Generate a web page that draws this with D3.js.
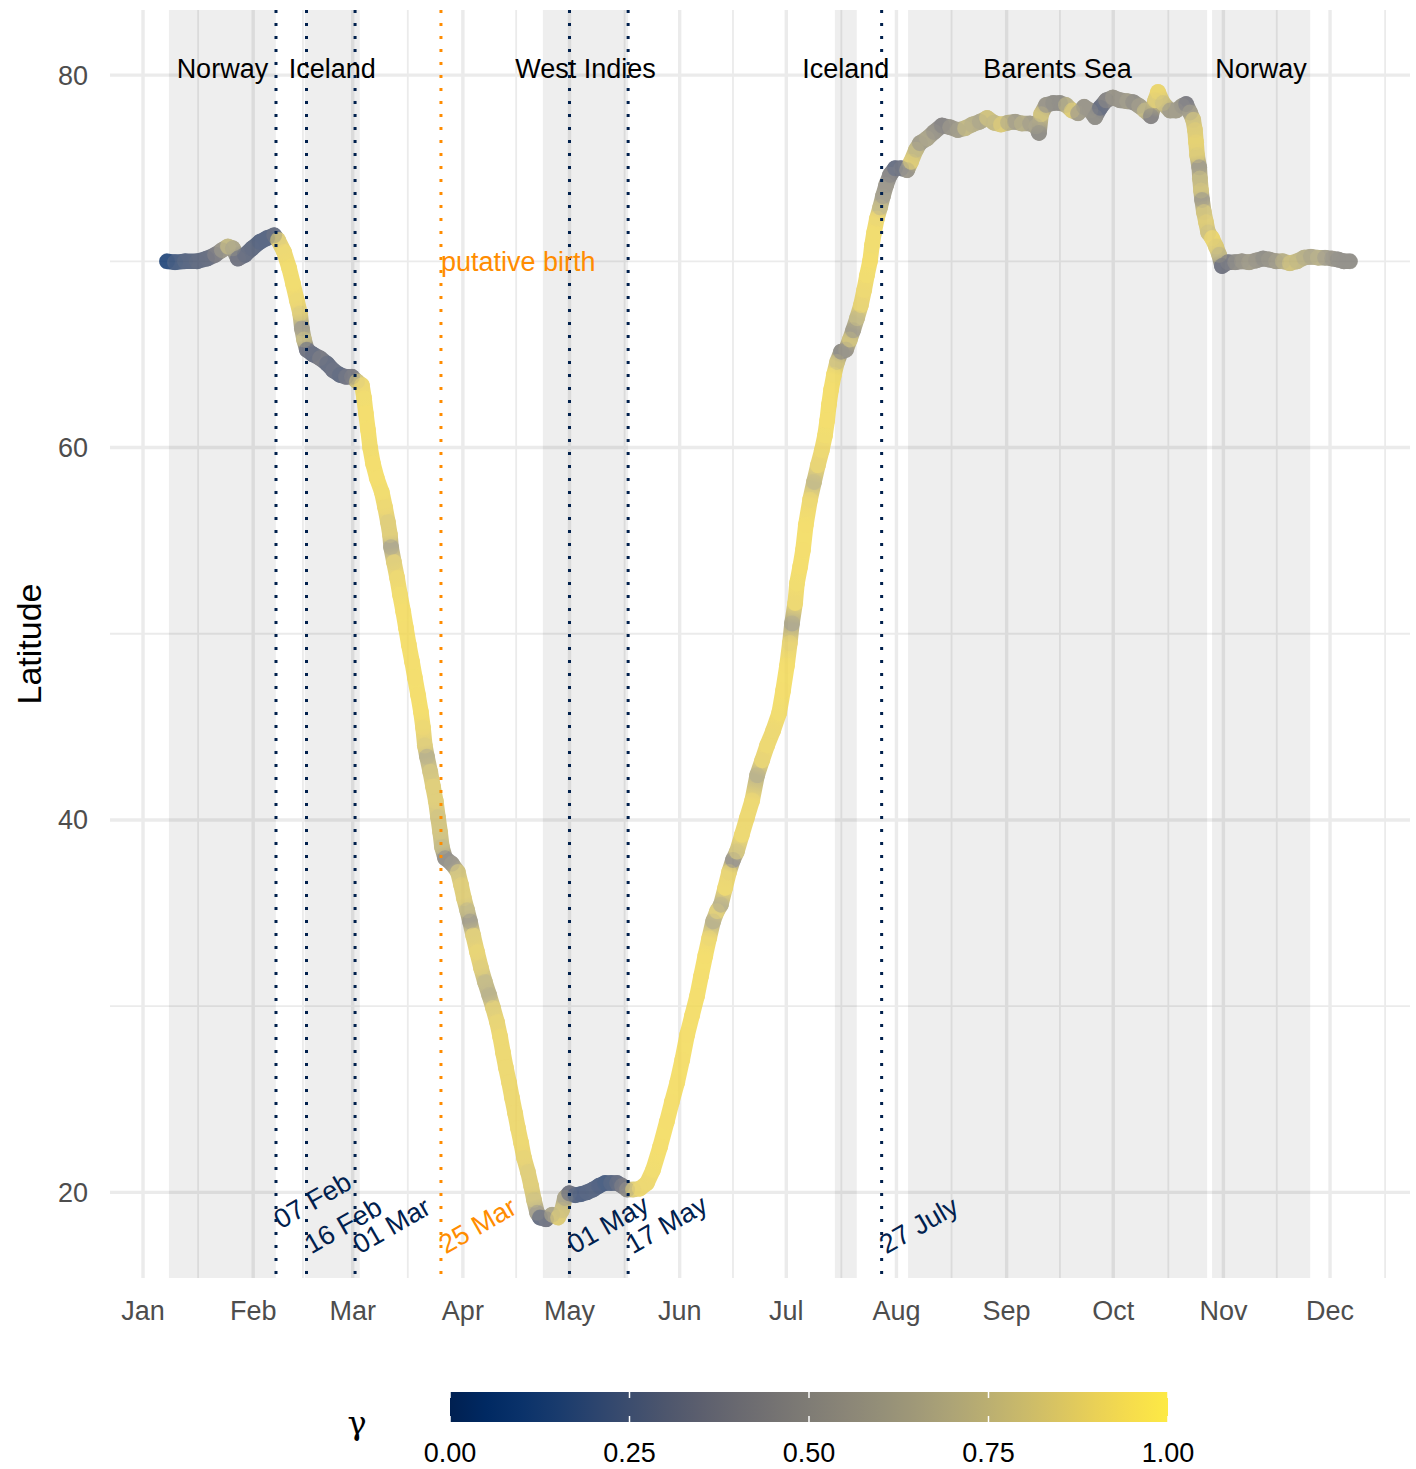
<!DOCTYPE html>
<html>
<head>
<meta charset="utf-8">
<script src="https://cdn.jsdelivr.net/npm/d3@7"></script>
<style>
  body { margin: 0; background: #fff; }
  svg text { font-family: "Liberation Sans", Arial, sans-serif; }
</style>
</head>
<body>
<div id="chart"></div>
<script>
// ---- data ----
const monthLabels = ["Jan", "Feb", "Mar", "Apr", "May", "Jun", "Jul", "Aug", "Sep", "Oct", "Nov", "Dec"];
const latMajor = [20, 40, 60, 80];
const latMinor = [30, 50, 70];

const regionNames = ["Norway", "Iceland", "West Indies", "Iceland", "Barents Sea", "Norway"];
const regionStart = ["2019-01-08T07:00", "2019-02-15T12:00", "2019-04-23T12:00", "2019-07-14T16:00", "2019-08-04T06:00", "2019-10-28T19:00"];
const regionEnd = ["2019-02-07T09:00", "2019-03-03T00:00", "2019-05-17T12:00", "2019-07-20T20:00", "2019-10-27T10:00", "2019-11-25T10:00"];
const regionLabelLat = 80.35;

const eventTimes = ["2019-02-07T10:00", "2019-02-16T00:00", "2019-03-01T16:00", "2019-05-01T00:00", "2019-05-17T12:00", "2019-07-27T20:00"];
const eventLabels = ["07 Feb", "16 Feb", "01 Mar", "01 May", "17 May", "27 July"];
const eventLabelLat = [18.45, 17.1, 17.1, 17.1, 17.1, 17.1];

const birthTime = "2019-03-25T20:00";
const birthLabel = "25 Mar";
const birthLabelLat = 17.1;
const birthText = "putative birth";
const birthTextLat = 70;

// track readings: day of year (0 = 1 Jan), latitude, gamma
const trackDay = [
  6.75, 9.0, 11.8, 15.2, 18.0, 20.3, 22.2, 23.9, 25.3, 26.7, 28.7, 30.7, 32.9, 34.9, 36.9,
  38.0, 39.7, 41.1, 42.2, 43.3, 44.2, 44.7, 45.3, 46.1,
  47.8, 49.8, 51.8, 53.5, 55.4, 57.1, 58.8, 60.2,
  61.6, 62.2, 62.7, 63.3, 63.9, 64.7, 65.8, 67.2, 68.1, 68.9,
  69.5, 69.8, 70.6, 71.5, 72.3, 73.2, 74.0, 74.8, 75.7, 76.5,
  77.4, 78.2, 78.8, 79.3, 79.9, 80.8, 81.6, 82.4, 83.0, 83.6,
  84.1, 85.0, 86.9, 88.6, 89.5, 90.3, 91.2, 92.0, 92.9, 94.0,
  95.1, 96.2, 97.4, 98.5, 99.6, 100.5, 101.3, 102.1, 103.0, 103.8,
  104.7, 105.5, 106.4, 107.2, 108.3, 109.2, 110.0, 110.9, 111.7, 113.4,
  115.1, 116.8, 117.9, 118.7, 119.9,
  121.6, 123.2, 124.9, 126.6, 128.3, 130.0, 131.7, 133.4, 134.8, 136.2,
  137.9, 139.8, 141.8, 143.5, 145.5, 147.4, 148.8, 150.3, 151.7, 153.1,
  154.5, 155.9, 157.0, 158.2, 159.3, 160.4, 161.5, 162.6, 163.8, 164.9,
  166.0, 167.1, 168.5, 169.9, 171.4, 172.8, 174.2, 175.6, 177.3, 179.0,
  180.1, 181.2, 182.0, 182.6, 183.5, 184.0, 184.9, 185.7, 186.5, 187.7,
  188.8, 189.9, 191.0, 191.9, 192.5, 193.0, 193.6, 194.4, 195.3, 196.4,
  197.8, 198.9, 199.8, 200.9, 202.0, 202.9, 203.7, 204.6, 205.1, 205.7,
  206.5, 207.4, 208.2, 209.1, 210.2, 211.6, 213.3, 215.0, 216.1, 217.5,
  218.6, 220.6, 222.6, 224.8, 227.1, 229.3, 231.3, 233.3, 235.5, 237.5,
  239.4, 241.4, 243.4, 245.4, 247.3, 249.6, 251.3, 252.1, 252.7, 254.1,
  256.1, 258.0, 259.7, 261.4, 263.1, 264.8, 266.5, 267.9, 269.3, 271.0,
  272.9, 274.9, 276.9, 278.6, 280.3, 281.9, 283.6, 284.8, 285.6, 287.0,
  289.0, 290.7, 292.4, 293.5, 294.6, 295.5,
  296.0, 296.3, 296.6, 297.2, 297.4, 297.7, 298.0, 298.5, 299.1, 299.7, 300.8, 301.9, 302.8, 303.6,
  305.3, 307.3, 309.2, 311.2, 313.2, 315.2, 316.8, 318.8, 320.7, 322.7,
  324.7, 326.7, 328.6, 330.6, 332.6, 334.6, 336.2, 337.9, 339.6
];
const trackLat = [
  70.0, 69.95, 70.0, 70.0, 70.15, 70.35, 70.6, 70.8, 70.7, 70.15, 70.35, 70.7, 71.05, 71.25, 71.4,
  71.15, 70.5, 69.65, 68.8, 67.9, 67.2, 66.4, 65.8, 65.25,
  65.0, 64.8, 64.5, 64.15, 63.9, 63.8, 63.8, 63.55,
  63.35, 62.65, 61.85, 60.95, 60.0, 59.15, 58.35, 57.6, 56.8, 56.0,
  55.3, 54.65, 53.85, 53.0, 52.1, 51.2, 50.3, 49.4, 48.5, 47.65,
  46.7, 45.8, 44.95, 44.0, 43.4, 42.6, 41.8, 41.0, 40.15, 39.35,
  38.55, 37.95, 37.65, 37.2, 36.5, 35.8, 35.15, 34.55, 33.8, 32.9,
  32.05, 31.3, 30.6, 29.9, 29.15, 28.35, 27.5, 26.7, 25.9, 25.1,
  24.25, 23.45, 22.65, 21.85, 21.1, 20.35, 19.6, 18.9, 18.65, 18.55,
  18.8, 18.65, 19.05, 19.7, 19.95,
  19.85, 19.9, 20.0, 20.15, 20.35, 20.5, 20.5, 20.5, 20.35, 20.15,
  20.15, 20.2, 20.5, 21.2, 22.45, 23.8, 24.85, 25.9, 27.1, 28.45,
  29.5, 30.55, 31.6, 32.7, 33.65, 34.55, 35.1, 35.45, 36.35, 37.2,
  37.85, 38.3, 39.2, 40.1, 41.05, 42.4, 43.2, 44.0, 44.8, 45.75,
  46.95, 48.3, 49.5, 50.55, 51.65, 52.7, 53.6, 54.5, 55.85, 57.2,
  58.15, 59.05, 59.85, 60.65, 61.45, 62.3, 63.1, 63.9, 64.6, 65.15,
  65.25, 65.8, 66.3, 66.95, 67.65, 68.45, 69.25, 70.05, 70.85, 71.55,
  72.3, 72.9, 73.5, 74.1, 74.65, 75.0, 75.0, 74.9, 75.35, 76.0,
  76.35, 76.6, 76.95, 77.3, 77.2, 77.05, 77.15, 77.35, 77.5, 77.7,
  77.45, 77.35, 77.45, 77.5, 77.4, 77.4, 77.25, 76.9, 77.9, 78.4,
  78.5, 78.5, 78.4, 78.1, 77.95, 78.3, 78.1, 77.75, 78.25, 78.65,
  78.8, 78.65, 78.6, 78.55, 78.35, 78.1, 77.8, 78.65, 79.1, 78.5,
  78.1, 78.1, 78.35, 78.45, 78.0, 77.6,
  77.05, 76.4, 75.7, 75.05, 74.45, 73.8, 73.3, 72.65, 72.1, 71.55, 71.25, 70.8, 70.35, 69.75,
  69.95, 69.95, 70.0, 69.95, 70.05, 70.15, 70.1, 70.0, 70.0, 69.9,
  70.0, 70.2, 70.25, 70.2, 70.2, 70.15, 70.1, 70.0, 70.0
];
const trackGamma = [
  0.08, 0.2, 0.25, 0.28, 0.3, 0.4, 0.55, 0.75, 0.65, 0.35, 0.3, 0.28, 0.25, 0.25, 0.3,
  0.85, 0.9, 0.92, 0.92, 0.9, 0.85, 0.6, 0.75, 0.35,
  0.3, 0.38, 0.3, 0.32, 0.28, 0.35, 0.4, 0.8,
  0.9, 0.92, 0.93, 0.93, 0.92, 0.93, 0.93, 0.92, 0.9, 0.85,
  0.85, 0.65, 0.85, 0.9, 0.92, 0.93, 0.93, 0.93, 0.93, 0.93,
  0.93, 0.93, 0.9, 0.85, 0.7, 0.8, 0.85, 0.85, 0.8, 0.8,
  0.75, 0.5, 0.55, 0.8, 0.85, 0.85, 0.75, 0.6, 0.85, 0.88,
  0.85, 0.75, 0.7, 0.85, 0.88, 0.9, 0.9, 0.9, 0.9, 0.9,
  0.9, 0.9, 0.9, 0.88, 0.85, 0.85, 0.8, 0.6, 0.3, 0.35,
  0.65, 0.85, 0.8, 0.65, 0.35,
  0.25, 0.22, 0.25, 0.25, 0.22, 0.2, 0.25, 0.3, 0.4, 0.5,
  0.85, 0.9, 0.9, 0.92, 0.93, 0.93, 0.93, 0.93, 0.93, 0.93,
  0.93, 0.93, 0.93, 0.93, 0.9, 0.7, 0.85, 0.7, 0.9, 0.88,
  0.55, 0.8, 0.9, 0.9, 0.9, 0.7, 0.88, 0.9, 0.9, 0.92,
  0.93, 0.93, 0.88, 0.65, 0.9, 0.92, 0.93, 0.93, 0.93, 0.9,
  0.75, 0.88, 0.9, 0.92, 0.93, 0.93, 0.93, 0.92, 0.8, 0.5,
  0.55, 0.8, 0.6, 0.75, 0.88, 0.9, 0.92, 0.93, 0.92, 0.92,
  0.9, 0.75, 0.6, 0.55, 0.45, 0.3, 0.35, 0.55, 0.85, 0.75,
  0.6, 0.65, 0.55, 0.45, 0.55, 0.6, 0.75, 0.7, 0.65, 0.8,
  0.75, 0.85, 0.7, 0.6, 0.7, 0.6, 0.65, 0.5, 0.8, 0.55,
  0.5, 0.5, 0.7, 0.85, 0.6, 0.55, 0.55, 0.5, 0.3, 0.45,
  0.55, 0.55, 0.6, 0.5, 0.6, 0.75, 0.45, 0.85, 0.9, 0.8,
  0.6, 0.6, 0.55, 0.4, 0.6, 0.8,
  0.85, 0.88, 0.85, 0.6, 0.75, 0.8, 0.6, 0.8, 0.85, 0.8, 0.9, 0.85, 0.75, 0.35,
  0.4, 0.5, 0.55, 0.6, 0.55, 0.5, 0.55, 0.6, 0.7, 0.8,
  0.75, 0.7, 0.65, 0.7, 0.6, 0.55, 0.5, 0.5, 0.5
];

const gammaTicks = [0, 0.25, 0.5, 0.75, 1];

// ---- setup ----
const width = 1416, height = 1469;
const panel = {left: 110, right: 1410, top: 10, bottom: 1278};

const svg = d3.select("#chart")
    .append("svg")
    .attr("width", width)
    .attr("height", height);

const parseDay = d3.utcParse("%Y-%m-%d");
const parseTime = d3.utcParse("%Y-%m-%dT%H:%M");
const parse = s => s.length > 10 ? parseTime(s) : parseDay(s);
const yearStart = Date.UTC(2019, 0, 1);
const dayToDate = d => new Date(yearStart + d * 864e5);

const x = d3.scaleUtc()
    .domain([new Date(Date.UTC(2018, 11, 22, 17)), new Date(Date.UTC(2019, 11, 23, 12))])
    .range([panel.left, panel.right]);

const y = d3.scaleLinear()
    .domain([15.4, 83.5])
    .range([panel.bottom, panel.top]);

const color = d3.scaleSequential(d3.interpolateCividis).domain([0, 1]);

const navy = "#00204D";
const orange = "darkorange";

// ---- grid ----
const months = d3.utcMonth.range(new Date(Date.UTC(2018, 11, 1)), new Date(Date.UTC(2020, 0, 2)));
const inX = d => d >= x.domain()[0] && d <= x.domain()[1];
const majorX = months.filter(inX);
const minorX = d3.pairs(months).map(([a, b]) => new Date((+a + +b) / 2)).filter(inX);

const grid = svg.append("g");
grid.selectAll("line.minx").data(minorX).join("line")
    .attr("x1", d => x(d)).attr("x2", d => x(d))
    .attr("y1", panel.top).attr("y2", panel.bottom)
    .attr("stroke", "#ebebeb").attr("stroke-width", 1.8);
grid.selectAll("line.miny").data(latMinor).join("line")
    .attr("x1", panel.left).attr("x2", panel.right)
    .attr("y1", d => y(d)).attr("y2", d => y(d))
    .attr("stroke", "#ebebeb").attr("stroke-width", 1.8);
grid.selectAll("line.majx").data(majorX).join("line")
    .attr("x1", d => x(d)).attr("x2", d => x(d))
    .attr("y1", panel.top).attr("y2", panel.bottom)
    .attr("stroke", "#ebebeb").attr("stroke-width", 3.4);
grid.selectAll("line.majy").data(latMajor).join("line")
    .attr("x1", panel.left).attr("x2", panel.right)
    .attr("y1", d => y(d)).attr("y2", d => y(d))
    .attr("stroke", "#ebebeb").attr("stroke-width", 3.4);

// ---- shaded regions ----
svg.append("g").selectAll("rect").data(regionNames).join("rect")
    .attr("x", (d, i) => x(parse(regionStart[i])))
    .attr("width", (d, i) => x(parse(regionEnd[i])) - x(parse(regionStart[i])))
    .attr("y", panel.top)
    .attr("height", panel.bottom - panel.top)
    .attr("fill", "#000")
    .attr("fill-opacity", 0.065);

// ---- axes text ----
svg.append("g").selectAll("text").data(latMajor).join("text")
    .attr("x", 88)
    .attr("y", d => y(d))
    .attr("dy", "0.35em")
    .attr("text-anchor", "end")
    .attr("font-size", 27)
    .attr("fill", "#4d4d4d")
    .text(d => d);

svg.append("g").selectAll("text").data(majorX.slice(0, monthLabels.length)).join("text")
    .attr("x", d => x(d))
    .attr("y", 1320)
    .attr("text-anchor", "middle")
    .attr("font-size", 27)
    .attr("fill", "#4d4d4d")
    .text((d, i) => monthLabels[i]);

svg.append("text")
    .attr("transform", `translate(41,${(panel.top + panel.bottom) / 2}) rotate(-90)`)
    .attr("text-anchor", "middle")
    .attr("font-size", 34)
    .attr("fill", "#000")
    .text("Latitude");

// ---- track ----
const pts = trackDay.map((d, i) => ({t: dayToDate(d), lat: trackLat[i], g: trackGamma[i]}));
const segs = d3.pairs(pts);
const defs = svg.append("defs");

defs.selectAll("linearGradient.seg").data(segs).join("linearGradient")
    .attr("class", "seg")
    .attr("id", (d, i) => "seg" + i)
    .attr("gradientUnits", "userSpaceOnUse")
    .attr("x1", d => x(d[0].t)).attr("y1", d => y(d[0].lat))
    .attr("x2", d => x(d[1].t)).attr("y2", d => y(d[1].lat))
    .selectAll("stop").data(d => [[0, d[0].g], [1, d[1].g]]).join("stop")
    .attr("offset", d => d[0])
    .attr("stop-color", d => color(d[1]));

const track = svg.append("g").attr("opacity", 0.82);
track.selectAll("line").data(segs).join("line")
    .attr("x1", d => x(d[0].t)).attr("y1", d => y(d[0].lat))
    .attr("x2", d => x(d[1].t)).attr("y2", d => y(d[1].lat))
    .attr("stroke", (d, i) => `url(#seg${i})`)
    .attr("stroke-width", 15.5)
    .attr("stroke-linecap", "round");
track.selectAll("circle").data(pts).join("circle")
    .attr("cx", d => x(d.t))
    .attr("cy", d => y(d.lat))
    .attr("r", 8)
    .attr("fill", d => color(d.g))
    .attr("fill-opacity", 0.45);

// ---- event lines ----
const vlines = svg.append("g");
vlines.selectAll("line").data(eventTimes).join("line")
    .attr("x1", d => x(parse(d))).attr("x2", d => x(parse(d)))
    .attr("y1", panel.top).attr("y2", panel.bottom)
    .attr("stroke", navy)
    .attr("stroke-width", 3)
    .attr("stroke-dasharray", "3,10");
vlines.append("line")
    .attr("x1", x(parse(birthTime))).attr("x2", x(parse(birthTime)))
    .attr("y1", panel.top).attr("y2", panel.bottom)
    .attr("stroke", orange)
    .attr("stroke-width", 3)
    .attr("stroke-dasharray", "3,10");

// ---- labels ----
svg.append("g").selectAll("text").data(regionNames).join("text")
    .attr("x", (d, i) => (x(parse(regionStart[i])) + x(parse(regionEnd[i]))) / 2)
    .attr("y", y(regionLabelLat))
    .attr("dy", "0.35em")
    .attr("text-anchor", "middle")
    .attr("font-size", 27)
    .attr("fill", "#000")
    .text(d => d);

svg.append("g").selectAll("text").data(eventTimes).join("text")
    .attr("transform", (d, i) => `translate(${x(parse(d))},${y(eventLabelLat[i])}) rotate(-30)`)
    .attr("dy", "0.35em")
    .attr("font-size", 27)
    .attr("fill", navy)
    .text((d, i) => eventLabels[i]);

svg.append("text")
    .attr("transform", `translate(${x(parse(birthTime))},${y(birthLabelLat)}) rotate(-30)`)
    .attr("dy", "0.35em")
    .attr("font-size", 27)
    .attr("fill", orange)
    .text(birthLabel);

svg.append("text")
    .attr("x", x(parse(birthTime)))
    .attr("y", y(birthTextLat))
    .attr("dy", "0.35em")
    .attr("font-size", 27)
    .attr("fill", orange)
    .text(birthText);

// ---- legend ----
const lx = d3.scaleLinear().domain([0, 1]).range([450, 1168]);
const barTop = 1392, barH = 30;

const lg = defs.append("linearGradient").attr("id", "cividis");
lg.selectAll("stop").data(d3.range(0, 1.0001, 0.05)).join("stop")
    .attr("offset", d => d)
    .attr("stop-color", d => color(d));

const legend = svg.append("g");
legend.append("rect")
    .attr("x", lx(0)).attr("y", barTop)
    .attr("width", lx(1) - lx(0)).attr("height", barH)
    .attr("fill", "url(#cividis)");

legend.selectAll("line.tt").data(gammaTicks).join("line")
    .attr("x1", d => lx(d)).attr("x2", d => lx(d))
    .attr("y1", barTop).attr("y2", barTop + barH / 5)
    .attr("stroke", "#fff").attr("stroke-width", 1.5);
legend.selectAll("line.tb").data(gammaTicks).join("line")
    .attr("x1", d => lx(d)).attr("x2", d => lx(d))
    .attr("y1", barTop + barH * 4 / 5).attr("y2", barTop + barH)
    .attr("stroke", "#fff").attr("stroke-width", 1.5);

legend.selectAll("text.tl").data(gammaTicks).join("text")
    .attr("x", d => lx(d))
    .attr("y", 1462)
    .attr("text-anchor", "middle")
    .attr("font-size", 27)
    .attr("fill", "#000")
    .text(d => d3.format(".2f")(d));

legend.append("text")
    .attr("x", 357)
    .attr("y", 1434)
    .attr("text-anchor", "middle")
    .attr("font-size", 32)
    .style("font-family", "'DejaVu Serif', serif")
    .attr("fill", "#000")
    .text("γ");
</script>
</body>
</html>
